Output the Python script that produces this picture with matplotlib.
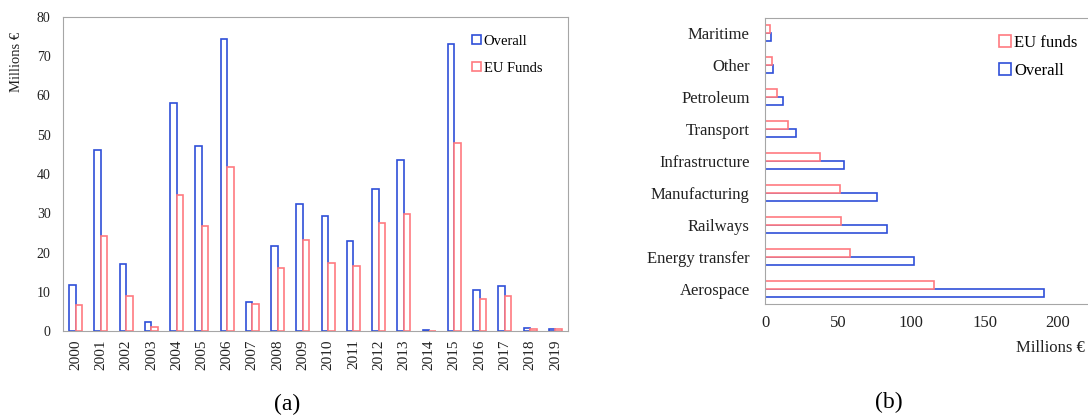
import numpy as np
import matplotlib.pyplot as plt
from matplotlib.patches import Rectangle

plt.rcParams['font.family'] = ['Liberation Serif', 'DejaVu Serif']

BLUE = '#2f4fd8'
RED = '#ff7a80'
SPINE = '#a6a6a6'

# (a) yearly investment
years = [str(y) for y in range(2000, 2020)]
overall_year = [11.7, 46.1, 17.1, 2.3, 58.1, 47.1, 74.4, 7.4, 21.7, 32.4,
                29.3, 23.0, 36.2, 43.6, 0.2, 73.1, 10.4, 11.5, 0.8, 0.6]
eu_year = [6.6, 24.2, 8.9, 1.0, 34.6, 26.8, 41.8, 6.9, 16.1, 23.2,
           17.3, 16.6, 27.5, 29.8, 0.1, 47.9, 8.2, 8.8, 0.5, 0.4]

# (b) investment by sector
sectors = ['Aerospace', 'Energy transfer', 'Railways', 'Manufacturing',
           'Infrastructure', 'Transport', 'Petroleum', 'Other', 'Maritime']
overall_sector = [190.4, 101.5, 83.5, 76.7, 54.0, 21.2, 12.3, 5.7, 3.9]
eu_sector = [115.6, 58.0, 51.7, 51.2, 37.5, 15.5, 8.2, 4.5, 3.6]

fig = plt.figure(figsize=(10.88, 4.19), dpi=100)

# ---- (a)
ax1 = fig.add_axes([63 / 1088, 88 / 419, 505 / 1088, 314 / 419])
x = np.arange(len(years))
w = 0.26
ax1.bar(x - w / 2, overall_year, w, facecolor='white', edgecolor=BLUE, linewidth=1.2)
ax1.bar(x + w / 2, eu_year, w, facecolor='white', edgecolor=RED, linewidth=1.2)
ax1.set_xlim(-0.5, len(years) - 0.5)
ax1.set_ylim(0, 80)
ax1.set_yticks(range(0, 81, 10))
ax1.set_xticks(x)
ax1.set_xticklabels(years, rotation=90)
ax1.tick_params(length=0, labelsize=10, colors='#222222')
ax1.tick_params(axis='y', pad=9)
ax1.tick_params(axis='x', pad=6, labelsize=11)
for s in ax1.spines.values():
    s.set_color(SPINE)
fig.text(17 / 1088, 1 - 62 / 419, 'Millions €', rotation=90,
         ha='center', va='center', fontsize=10.5, color='#222222')

h1 = [Rectangle((0, 0), 1, 1, facecolor='white', edgecolor=BLUE, linewidth=1.2),
      Rectangle((0, 0), 1, 1, facecolor='white', edgecolor=RED, linewidth=1.2)]
ax1.legend(h1, ['Overall', 'EU Funds'], loc='upper left',
           bbox_to_anchor=((472 - 63) / 505, 1 - 18 / 314), frameon=False,
           handlelength=0.6, handleheight=0.6, handletextpad=0.2,
           labelspacing=0.95, fontsize=10.5, borderaxespad=0, borderpad=0)

# ---- (b)
ax2 = fig.add_axes([765 / 1088, 115 / 419, 366 / 1088, 286 / 419])
y = np.arange(len(sectors))
h = 0.25
ax2.barh(y - h / 2, overall_sector, h, facecolor='white', edgecolor=BLUE, linewidth=1.2)
ax2.barh(y + h / 2, eu_sector, h, facecolor='white', edgecolor=RED, linewidth=1.2)
ax2.set_xlim(0, 250)
ax2.set_ylim(-0.47, len(sectors) - 0.53)
ax2.set_xticks([0, 50, 100, 150, 200])
ax2.set_yticks(y)
ax2.set_yticklabels(sectors)
ax2.tick_params(length=0, labelsize=12, colors='#222222')
ax2.tick_params(axis='y', pad=11)
ax2.tick_params(axis='x', pad=8)
ax2.spines['right'].set_visible(False)
for s in ax2.spines.values():
    s.set_color(SPINE)
fig.text(1085 / 1088, 1 - 348 / 419, 'Millions €', ha='right', va='center',
         fontsize=12, color='#222222')

h2 = [Rectangle((0, 0), 1, 1, facecolor='white', edgecolor=RED, linewidth=1.2),
      Rectangle((0, 0), 1, 1, facecolor='white', edgecolor=BLUE, linewidth=1.2)]
ax2.legend(h2, ['EU funds', 'Overall'], loc='upper left',
           bbox_to_anchor=((999 - 765) / 366, 1 - 17 / 286), frameon=False,
           handlelength=0.7, handleheight=0.7, handletextpad=0.2,
           labelspacing=0.7, fontsize=12, borderaxespad=0, borderpad=0)

fig.text(287 / 1088, 1 - 404 / 419, '(a)', ha='center', va='center', fontsize=17)
fig.text(889 / 1088, 1 - 402 / 419, '(b)', ha='center', va='center', fontsize=17)

fig.savefig('out.png', dpi=100)
